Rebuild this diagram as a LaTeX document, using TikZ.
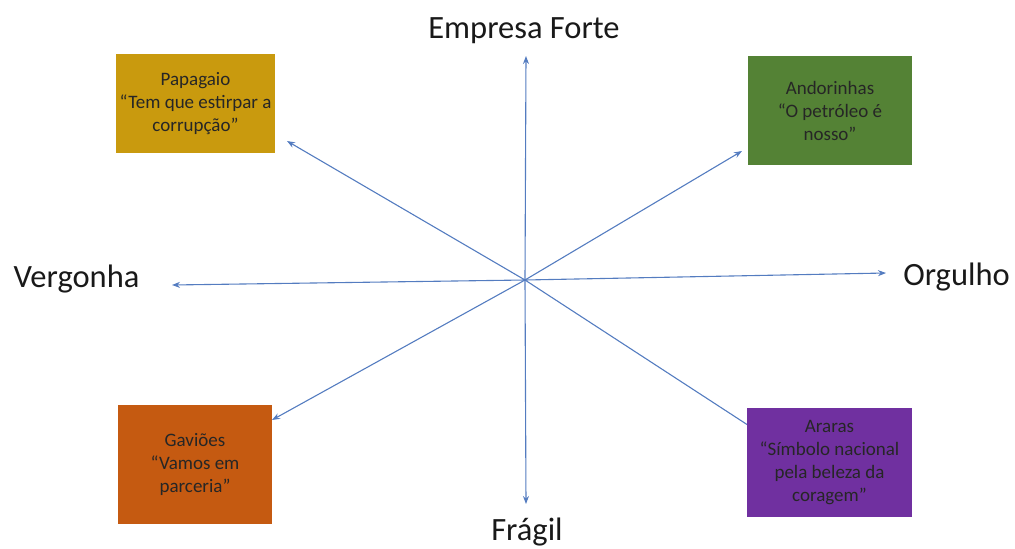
\documentclass[tikz,border=0pt]{standalone}
\usepackage{fontspec}
\setmainfont{Carlito}
\usetikzlibrary{arrows.meta}
\definecolor{eixoazul}{RGB}{84,124,192}
\definecolor{corpapagaio}{RGB}{201,154,14}
\definecolor{corandorinha}{RGB}{84,130,53}
\definecolor{corgaviao}{RGB}{197,90,17}
\definecolor{corarara}{RGB}{112,48,160}
\tikzset{
    eixo/.style={draw=eixoazul, line width=1.1pt, -{Stealth[length=8pt,width=6pt]}},
    caixa/.style={draw=none, inner sep=0pt, align=center, text=black!85,
        font=\fontsize{19}{23}\selectfont},
    polo/.style={font=\fontsize{32.5}{38}\selectfont, text=black!90, anchor=base}
}
\begin{document}
\begin{tikzpicture}[x=1pt, y=-1pt]
    \useasboundingbox (0,0) rectangle (1015,549);
    % eixos
    \coordinate (centro) at (525,280);
    \coordinate (topo) at (526,56);
    \coordinate (base) at (526,504);
    \coordinate (esq) at (172,285);
    \coordinate (dir) at (886,273);
    \coordinate (supesq) at (287,141);
    \coordinate (supdir) at (742,151);
    \coordinate (infesq) at (272,420);
    \coordinate (infdir) at (757,431);
    \draw[eixo] (centro) -- (topo);
    \draw[eixo] (centro) -- (base);
    \draw[eixo] (centro) -- (esq);
    \draw[eixo] (centro) -- (dir);
    \draw[eixo] (centro) -- (supesq);
    \draw[eixo] (centro) -- (supdir);
    \draw[eixo] (centro) -- (infesq);
    \draw[eixo] (centro) -- (infdir);
    % polos
    \node[polo] (forte) at (524,38) {Empresa Forte};
    \node[polo] (fragil) at (527,540) {Frágil};
    \node[polo] (vergonha) at (76.5,287) {Vergonha};
    \node[polo] (orgulho) at (956.5,285) {Orgulho};
    % caixas
    \node[caixa, fill=corpapagaio, minimum width=159pt, minimum height=99pt]
        (papagaio) at (195.5,103.5) {Papagaio\\``Tem que estirpar a\\corrupção''};
    \node[caixa, fill=corandorinha, minimum width=164pt, minimum height=109pt]
        (andorinhas) at (830,110.5) {Andorinhas\\``O petróleo é\\nosso''};
    \node[caixa, fill=corgaviao, minimum width=154pt, minimum height=119pt]
        (gavioes) at (195,464.5) {Gaviões\\``Vamos em\\parceria''};
    \node[caixa, fill=corarara, minimum width=165pt, minimum height=109pt]
        (araras) at (829.5,462.5) {Araras\\``Símbolo nacional\\pela beleza da\\coragem''};
\end{tikzpicture}
\end{document}
